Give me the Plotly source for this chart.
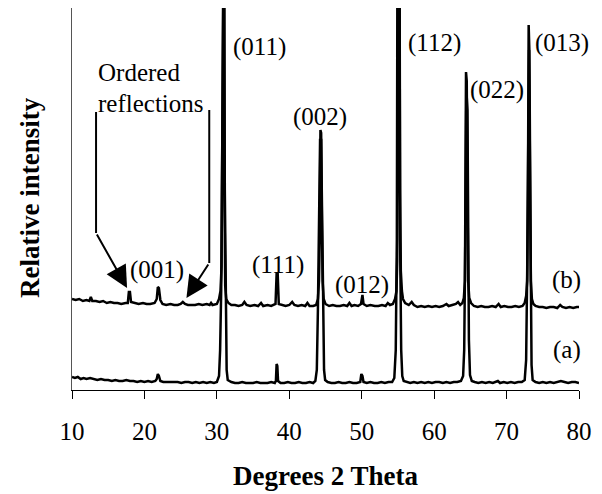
import plotly.graph_objects as go

# Pattern (b) - traced vertices (2-theta, relative intensity)
theta_b = [10.0, 10.5, 11.0, 11.5, 12.0, 12.4, 12.6, 12.8, 13.3, 13.8, 14.3, 14.8, 15.3, 15.8, 16.3, 16.8,
           17.4, 17.7, 17.85, 18.0, 18.15, 18.6, 19.2, 19.8, 20.3, 20.8, 21.4, 21.7, 21.85, 22.0, 22.2, 22.5,
           23.0, 23.6, 24.1, 24.6, 25.0, 25.3, 25.6, 26.0, 26.5, 27.0, 27.5, 28.0, 28.6, 29.0, 29.2, 29.4,
           30.0, 30.3, 30.5, 30.65, 30.75, 30.85, 30.95, 31.05, 31.15, 31.3, 31.6, 32.0, 32.5, 33.0, 33.5,
           33.8, 34.1, 34.6, 35.2, 35.7, 36.1, 36.4, 37.0, 37.5, 38.1, 38.25, 38.4, 38.55, 39.0, 39.5, 40.0,
           40.4, 40.7, 41.2, 41.7, 42.2, 42.5, 42.8, 43.3, 43.7, 43.95, 44.1, 44.2, 44.3, 44.4, 44.5, 44.6,
           44.75, 45.0, 45.5, 46.0, 46.5, 47.0, 47.5, 48.0, 48.3, 48.6, 49.0, 49.5, 49.9, 50.0, 50.1, 50.25,
           50.7, 51.2, 51.8, 52.3, 52.8, 53.3, 53.6, 53.9, 54.3, 54.6, 54.8, 54.9, 55.0, 55.05, 55.2, 55.3,
           55.4, 55.55, 55.7, 56.0, 56.5, 56.9, 57.2, 57.7, 58.2, 58.7, 59.2, 59.7, 60.2, 60.7, 61.2, 61.7,
           62.0, 62.5, 63.0, 63.3, 63.6, 63.9, 64.1, 64.25, 64.35, 64.4, 64.5, 64.6, 64.7, 64.85, 65.1, 65.5,
           66.0, 66.5, 67.0, 67.5, 68.0, 68.5, 68.9, 69.2, 69.7, 70.2, 70.7, 71.2, 71.7, 72.2, 72.5, 72.7,
           72.85, 72.95, 73.05, 73.15, 73.25, 73.35, 73.5, 73.7, 74.0, 74.5, 75.0, 75.5, 76.0, 76.5, 77.0,
           77.4, 77.7, 78.2, 78.7, 79.2, 79.7, 80.0]
intensity_b = [91, 90, 91, 89, 90, 89, 93, 89, 89, 88, 89, 87, 88, 87, 87, 86,
               87, 87, 98, 98, 88, 87, 86, 87, 86, 86, 87, 91, 103, 102, 90, 86,
               85, 86, 85, 85, 86, 88, 86, 85, 85, 85, 86, 85, 86, 85, 87, 85,
               86, 91, 99, 124, 250, 500, 500, 200, 104, 91, 87, 85, 85, 84, 85,
               88, 85, 84, 85, 84, 87, 84, 85, 84, 86, 116, 116, 86, 85, 84, 85,
               88, 85, 84, 85, 84, 87, 84, 84, 85, 91, 109, 150, 260, 257, 170, 109,
               91, 86, 84, 85, 84, 84, 85, 84, 87, 84, 85, 84, 86, 95, 95, 86,
               84, 85, 84, 84, 85, 84, 87, 85, 86, 91, 99, 129, 250, 500, 500, 200,
               119, 99, 91, 87, 85, 88, 85, 83, 84, 83, 84, 83, 84, 83, 84, 86,
               84, 85, 86, 88, 85, 87, 92, 109, 200, 318, 309, 200, 109, 92, 87, 84,
               83, 84, 83, 83, 84, 83, 86, 83, 84, 83, 83, 84, 83, 84, 87, 94,
               109, 200, 365, 339, 190, 109, 91, 86, 84, 83, 83, 82, 83, 83, 82,
               85, 83, 82, 83, 82, 83, 83]

# Pattern (a) - traced vertices (2-theta, relative intensity)
theta_a = [10.0, 10.4, 10.8, 11.2, 11.6, 12.0, 12.5, 13.0, 13.5, 14.0, 14.5, 15.0, 15.5, 16.0, 16.5, 17.0,
           17.5, 18.0, 18.5, 19.0, 19.5, 20.0, 20.5, 21.0, 21.5, 21.7, 21.85, 22.0, 22.2, 22.6, 23.1, 23.6,
           24.1, 24.6, 25.1, 25.6, 26.1, 26.6, 27.1, 27.6, 28.1, 28.6, 29.1, 29.6, 30.0, 30.3, 30.45, 30.6,
           30.7, 30.8, 31.0, 31.1, 31.2, 31.35, 31.5, 32.0, 32.5, 33.0, 33.5, 34.0, 34.5, 35.0, 35.5, 36.0,
           36.5, 37.0, 37.5, 38.0, 38.15, 38.25, 38.35, 38.45, 38.8, 39.3, 39.8, 40.3, 40.8, 41.3, 41.8,
           42.3, 42.8, 43.3, 43.6, 43.8, 43.95, 44.1, 44.25, 44.4, 44.55, 44.65, 44.8, 44.95, 45.3, 45.8,
           46.3, 46.8, 47.3, 47.8, 48.3, 48.8, 49.3, 49.8, 49.95, 50.1, 50.25, 50.7, 51.2, 51.7, 52.2, 52.7,
           53.2, 53.7, 54.2, 54.5, 54.7, 54.85, 54.95, 55.2, 55.3, 55.45, 55.6, 55.8, 56.2, 56.7, 57.2, 57.7,
           58.2, 58.7, 59.2, 59.7, 60.2, 60.7, 61.2, 61.7, 62.2, 62.7, 63.2, 63.7, 64.0, 64.15, 64.3, 64.45,
           64.6, 64.7, 64.8, 64.95, 65.2, 65.6, 66.1, 66.6, 67.1, 67.6, 68.1, 68.8, 69.1, 69.6, 70.1, 70.6,
           71.1, 71.6, 72.1, 72.5, 72.7, 72.85, 73.0, 73.1, 73.2, 73.3, 73.35, 73.45, 73.6, 74.0, 74.5, 75.0,
           75.5, 76.0, 76.5, 77.0, 77.5, 78.0, 78.5, 79.0, 79.5, 80.0]
intensity_a = [13, 12, 13, 11, 12, 11, 12, 11, 10, 11, 10, 10, 9, 10, 9, 9,
               10, 9, 9, 8, 9, 8, 9, 8, 9, 11, 16, 14, 9, 8, 8, 8,
               8, 8, 7, 8, 8, 7, 8, 7, 8, 7, 8, 7, 8, 14, 40, 100,
               200, 500, 500, 200, 80, 20, 10, 8, 7, 7, 8, 7, 7, 7, 8, 7,
               7, 7, 8, 7, 9, 26, 24, 9, 7, 7, 8, 7, 7, 8, 7,
               7, 8, 7, 9, 20, 80, 180, 250, 250, 150, 60, 20, 10, 8, 7,
               7, 8, 7, 7, 8, 7, 7, 8, 16, 14, 8, 7, 8, 7, 7, 8,
               7, 8, 8, 12, 40, 150, 500, 500, 150, 40, 14, 9, 8, 7, 8, 7,
               8, 7, 8, 7, 8, 8, 7, 8, 7, 8, 8, 9, 14, 40, 150, 300,
               280, 150, 50, 15, 9, 8, 7, 8, 7, 8, 7, 9, 7, 8, 7, 8,
               7, 8, 8, 10, 30, 120, 300, 340, 250, 170, 100, 25, 10, 8, 7, 8,
               7, 8, 7, 8, 9, 8, 7, 8, 8, 7]

tick_vals = [10, 20, 30, 40, 50, 60, 70, 80]

# Peak labels (text, 2-theta, intensity position)
peak_labels = ["(011)", "(002)", "(112)", "(022)", "(013)", "(001)", "(111)", "(012)", "(b)", "(a)"]
label_theta = [35.9, 44.2, 60.1, 68.7, 77.7, 21.8, 38.4, 50.0, 78.3, 78.3]
label_int = [343, 273, 347, 300, 347, 120, 125, 105, 110, 40]

SERIF = "Liberation Serif"

fig = go.Figure()
fig.add_trace(go.Scatter(x=theta_a, y=intensity_a, mode="lines",
                         line=dict(color="black", width=2.5), hoverinfo="skip"))
fig.add_trace(go.Scatter(x=theta_b, y=intensity_b, mode="lines",
                         line=dict(color="black", width=2.5), hoverinfo="skip"))

for t, xv, yv in zip(peak_labels, label_theta, label_int):
    fig.add_annotation(x=xv, y=yv, text=t, showarrow=False,
                       font=dict(family=SERIF, size=25, color="black"),
                       xanchor="center", yanchor="middle")

# "Ordered reflections" label with bracket arrows
fig.add_annotation(x=13.3, y=318, text="Ordered", showarrow=False, xanchor="left", yanchor="middle",
                   font=dict(family=SERIF, size=25, color="black"))
fig.add_annotation(x=13.3, y=287, text="reflections", showarrow=False, xanchor="left", yanchor="middle",
                   font=dict(family=SERIF, size=25, color="black"))
fig.add_shape(type="line", x0=13.32, y0=278, x1=13.32, y1=157, line=dict(color="black", width=2))
fig.add_shape(type="line", x0=28.95, y0=280, x1=28.95, y1=127, line=dict(color="black", width=2))
fig.add_annotation(x=17.6, y=102, ax=13.32, ay=157, axref="x", ayref="y", text="",
                   showarrow=True, arrowhead=2, arrowsize=2.2, arrowwidth=2, arrowcolor="black")
fig.add_annotation(x=25.8, y=92, ax=28.95, ay=127, axref="x", ayref="y", text="",
                   showarrow=True, arrowhead=2, arrowsize=2.2, arrowwidth=2, arrowcolor="black")

# Axis titles
fig.add_annotation(xref="paper", yref="paper", x=0.5, y=-0.224, text="<b>Degrees 2 Theta</b>",
                   showarrow=False, xanchor="center", yanchor="middle",
                   font=dict(family=SERIF, size=27, color="black"))
fig.add_annotation(xref="paper", yref="paper", x=-0.083, y=0.505, text="<b>Relative intensity</b>",
                   showarrow=False, xanchor="center", yanchor="middle", textangle=-90,
                   font=dict(family=SERIF, size=27, color="black"))

fig.update_layout(
    width=602, height=494,
    margin=dict(l=72, r=23, t=8, b=104, autoexpand=False),
    paper_bgcolor="white", plot_bgcolor="white",
    showlegend=False,
    xaxis=dict(range=[10, 80], tickvals=tick_vals, ticks="outside", ticklen=8, tickwidth=1,
               tickcolor="black", showline=True, linecolor="black", linewidth=1,
               showgrid=False, zeroline=False, ticklabelstandoff=11, automargin=False,
               tickfont=dict(family=SERIF, size=25, color="black")),
    yaxis=dict(range=[0, 382], showticklabels=False, ticks="", showline=True,
               linecolor="#555555", linewidth=1, showgrid=False, zeroline=False, automargin=False),
)

fig.write_html("out.html", config={"displayModeBar": False},
               post_script="document.body.style.margin='0px';document.body.style.padding='0px';")
